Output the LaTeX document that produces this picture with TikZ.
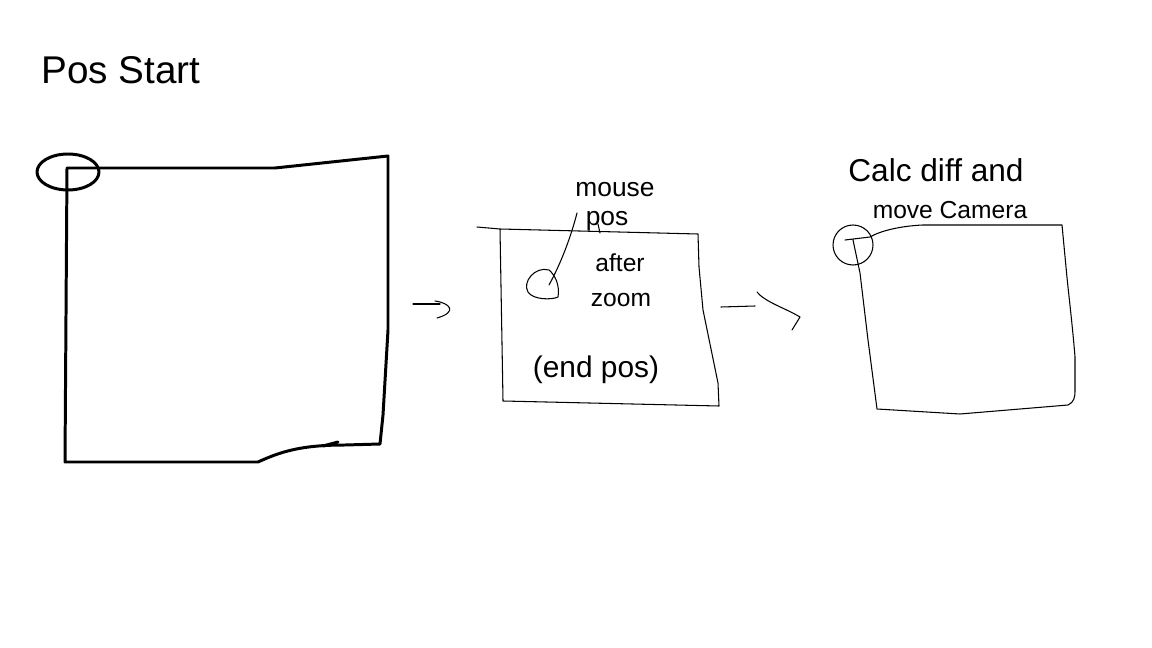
\documentclass[tikz,border=0pt]{standalone}
\usepackage{fontspec}
\setmainfont{Liberation Sans}
\begin{document}
\begin{tikzpicture}[x=0.02cm,y=-0.02cm,
  thick stroke/.style={line width=1.7pt,line join=round,line cap=round},
  thin stroke/.style={line width=0.6pt,line join=round,line cap=round},
  hand/.style={inner sep=0pt,align=center,font=\fontsize{#1}{#1}\selectfont},
  hand/.default=14]
\useasboundingbox[fill=white] (0,0) rectangle (1152,648);

% ---- titles / labels
\node[hand=22] (posstart) at (121,70) {Pos Start};
\node[hand=15] (mouse) at (615,190) {mouse};
\node[hand=15] (pos) at (607,221) {pos};
\node[hand=14] (after) at (620,263) {after};
\node[hand=14] (zoom) at (621,300) {zoom};
\node[hand=17] (endpos) at (596,370) {(end pos)};
\node[hand=18] (calc) at (936,170) {Calc diff and};
\node[hand=14] (move) at (950,210) {move Camera};

% ---- box 1 (start)
\draw[thick stroke] (65,462) -- (67,168) -- (275,168) -- (388,156) -- (388,330)
  -- (383,415) -- (380,444) -- (345,445) .. controls (300,445) and (280,452) .. (258,462) -- cycle;
\draw[thick stroke] (323,446) -- (338,442);
\draw[thick stroke] (68,172) ellipse [x radius=31, y radius=18];

% ---- arrow 1
\coordinate (a1s) at (413,304);
\coordinate (a1e) at (440,304);
\draw[thin stroke] (a1s) -- (a1e);
\draw[thin stroke] (435,301) .. controls (450,303) and (458,312) .. (437,318);

% ---- box 2 (after zoom)
\draw[thin stroke] (477,227) -- (500,229) -- (698,234) -- (699,267) -- (703,310)
  -- (718,383) -- (719,406) -- (503,401) -- (500,229);
\draw[thin stroke] (549,270) .. controls (535,266) and (522,282) .. (528,292)
  .. controls (533,300) and (552,300) .. (558,297) .. controls (560,285) and (555,275) .. (549,270);
\coordinate (leadS) at (549,285);
\draw[thin stroke] (leadS) .. controls (560,265) and (570,240) .. (577,213);
\draw[thin stroke] (598,224) -- (600,233);

% ---- arrow 2
\coordinate (a2s) at (721,307);
\coordinate (a2e) at (755,306);
\draw[thin stroke] (a2s) -- (a2e);
\draw[thin stroke] (757,292) .. controls (765,302) and (785,308) .. (800,317) -- (792,330);

% ---- box 3 (moved camera)
\draw[thin stroke] (853,240) -- (860,273) -- (868,340) -- (877,409) -- (960,414) -- (1068,405)
  .. controls (1074,402) and (1075,398) .. (1075,390) -- (1075,357)
  .. controls (1072,320) and (1068,290) .. (1066,267) -- (1062,225) -- (923,225)
  .. controls (900,226) and (880,231) .. (870,237) -- (845,240);
\draw[thin stroke] (853,245) circle [radius=20];
\end{tikzpicture}
\end{document}
